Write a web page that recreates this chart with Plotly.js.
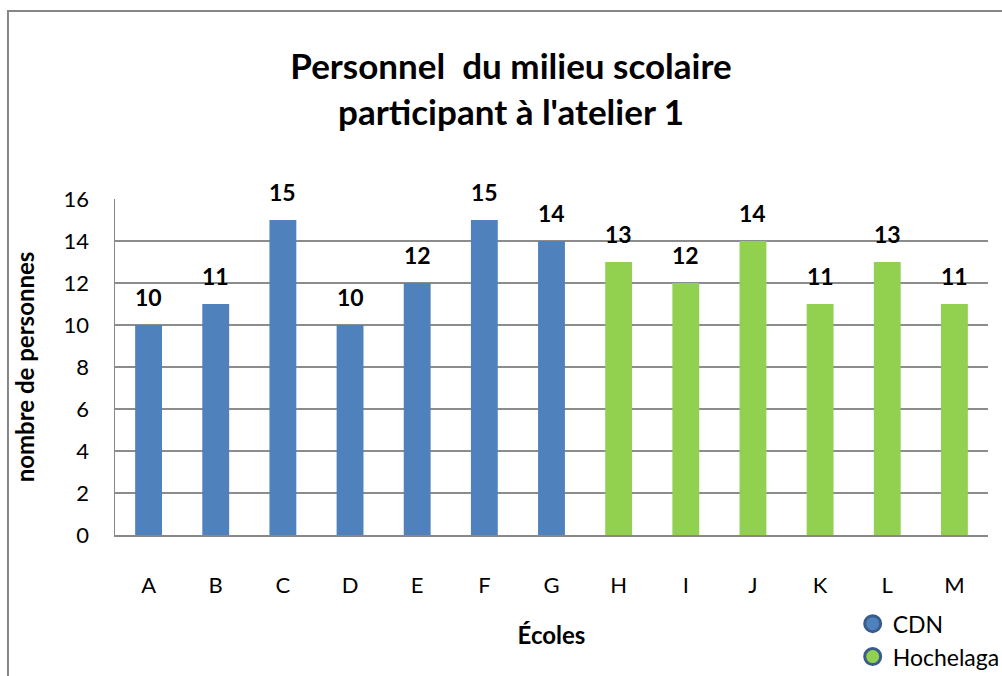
<!DOCTYPE html>
<html>
<head>
<meta charset="utf-8">
<script src="https://cdn.plot.ly/plotly-3.0.1.min.js"></script>
<style>html,body{margin:0;padding:0;background:#fff;}#chart{width:1002px;height:676px;}</style>
</head>
<body>
<div id="chart"></div>
<script>
const categoriesCDN = ['A','B','C','D','E','F','G'];
const valuesCDN = [10, 11, 15, 10, 12, 15, 14];
const categoriesHochelaga = ['H','I','J','K','L','M'];
const valuesHochelaga = [13, 12, 14, 11, 13, 11];
const allCategories = categoriesCDN.concat(categoriesHochelaga);
const yTicks = [0, 2, 4, 6, 8, 10, 12, 14, 16];

const FONT = 'Lato, "Open Sans", "DejaVu Sans", sans-serif';
const blue = '#4f81bd', green = '#92d050', outline = '#385d8a';

const traces = [
  {type:'bar', x:categoriesCDN, y:valuesCDN, marker:{color:blue}, showlegend:false, hoverinfo:'x+y'},
  {type:'bar', x:categoriesHochelaga, y:valuesHochelaga, marker:{color:green}, showlegend:false, hoverinfo:'x+y'},
  {type:'scatter', mode:'markers', x:[null], y:[null], name:'CDN',
   marker:{symbol:'circle', size:28, color:blue, line:{color:outline, width:3}}},
  {type:'scatter', mode:'markers', x:[null], y:[null], name:'Hochelaga',
   marker:{symbol:'circle', size:28, color:green, line:{color:outline, width:3}}}
];

const annotations = [];
categoriesCDN.forEach((c,i)=>annotations.push({x:c, y:valuesCDN[i], text:String(valuesCDN[i])}));
categoriesHochelaga.forEach((c,i)=>annotations.push({x:c, y:valuesHochelaga[i], text:String(valuesHochelaga[i])}));
annotations.forEach(a=>{
  a.xref='x'; a.yref='y'; a.showarrow=false; a.yanchor='bottom'; a.yshift=12;
  a.font={family:FONT, size:23, color:'#000', weight:'bold'};
});

const layout = {
  width:1002, height:676,
  margin:{l:115, r:14, t:199, b:141, autoexpand:false},
  paper_bgcolor:'#fff', plot_bgcolor:'#fff',
  font:{family:FONT, size:22, color:'#000'},
  title:{text:'<b>Personnel  du milieu scolaire<br>participant à l\'atelier 1</b>',
         font:{family:FONT, size:35, color:'#000'}, x:0.51, xanchor:'center', y:0.883, yanchor:'middle', yref:'container'},
  bargap:0.6,
  xaxis:{type:'category', categoryorder:'array', categoryarray:allCategories,
         showgrid:false, showline:true, linecolor:'#888', linewidth:2, ticks:'', ticklabelstandoff:30,
         tickfont:{family:FONT, size:22, color:'#000'},
         title:{text:'<b>Écoles</b>', font:{family:FONT, size:24, color:'#000'}, standoff:30}},
  yaxis:{range:[0,16], tickvals:yTicks, ticktext:yTicks.map(String), showgrid:true, gridcolor:'#8c8c8c', gridwidth:1.5,
         showline:true, linecolor:'#888', linewidth:1.5, zeroline:false, ticks:'', ticklabelstandoff:20,
         tickfont:{family:FONT, size:22, color:'#000'},
         title:{text:'<b>nombre de personnes</b>', font:{family:FONT, size:24, color:'#000'}, standoff:22}},
  legend:{x:0.845, y:-0.2, xanchor:'left', yanchor:'top', bgcolor:'rgba(0,0,0,0)',
          font:{family:FONT, size:23, color:'#000'}, itemsizing:'trace', tracegroupgap:0},
  shapes:[{type:'rect', xref:'paper', yref:'paper', x0:-0.1226, x1:1.2, y0:-0.6, y1:1.5595,
           line:{color:'#868686', width:2}, fillcolor:'rgba(0,0,0,0)', layer:'below'}],
  annotations:annotations
};

Plotly.newPlot('chart', traces, layout, {displayModeBar:false, staticPlot:true});
</script>
</body>
</html>
